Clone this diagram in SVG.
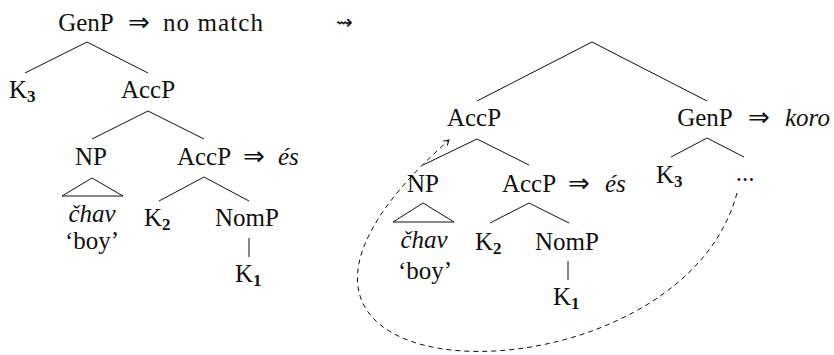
<svg xmlns="http://www.w3.org/2000/svg" width="834" height="355" viewBox="0 0 834 355">
<style>
.it{font-style:italic}
.ar{font-family:"DejaVu Sans",sans-serif;font-size:26px}
.sq{font-family:"DejaVu Sans",sans-serif;font-size:20px}
.sub{font-size:17px;font-weight:bold}
.m{text-anchor:middle}
.e line,.e path,.e polyline,.e polygon{stroke:#111;stroke-width:1;fill:none}
.d{stroke-dasharray:5 4}
</style>
<defs>
<marker id="ah" markerWidth="10" markerHeight="10" viewBox="-6 -5 8 10" refX="0" refY="0" orient="auto" markerUnits="userSpaceOnUse">
<path d="M-5,-3 Q-1.5,-0.8 0,0 Q-1.5,0.8 -5,3" fill="none" stroke="#111" stroke-width="1"/>
</marker>
</defs>
<g font-family="Liberation Serif, Times New Roman, serif" font-size="25" fill="#111">
<text class="sq" x="336" y="29">⇝</text>
<g id="L_GenP"><text class="m" x="86" y="31">GenP</text><text class="ar" x="128" y="31">⇒</text><text x="163" y="31" textLength="100" lengthAdjust="spacing">no match</text></g>
<g id="L_K3"><text x="9" y="98">K<tspan class="sub" dy="4">3</tspan></text></g>
<g id="L_AccP"><text class="m" x="148" y="98">AccP</text></g>
<g id="L_NP"><text class="m" x="91" y="165">NP</text></g>
<g id="L_AccP2"><text class="m" x="204" y="165">AccP</text><text class="ar" x="243" y="165">⇒</text><text class="it" x="278" y="165">és</text></g>
<g id="L_chav"><text class="m it" x="92" y="222">čhav</text><text class="m" x="92" y="249">‘boy’</text></g>
<g id="L_K2"><text x="144" y="226">K<tspan class="sub" dy="4">2</tspan></text></g>
<g id="L_NomP"><text class="m" x="247" y="226">NomP</text></g>
<g id="L_K1"><text x="235" y="282">K<tspan class="sub" dy="4">1</tspan></text></g>
<g id="R_AccP"><text class="m" x="474" y="126">AccP</text></g>
<g id="R_GenP"><text class="m" x="705" y="126">GenP</text><text class="ar" x="748" y="126">⇒</text><text class="it" x="785" y="126">koro</text></g>
<g id="R_NP"><text class="m" x="423" y="192">NP</text></g>
<g id="R_AccP2"><text class="m" x="529" y="192">AccP</text><text class="ar" x="568" y="192">⇒</text><text class="it" x="605" y="192">és</text></g>
<g id="R_K3"><text x="656" y="183">K<tspan class="sub" dy="4">3</tspan></text></g>
<g id="R_dots"><text class="m" x="745" y="181">...</text></g>
<g id="R_chav"><text class="m it" x="424" y="248">čhav</text><text class="m" x="425" y="279">‘boy’</text></g>
<g id="R_K2"><text x="475" y="250">K<tspan class="sub" dy="4">2</tspan></text></g>
<g id="R_NomP"><text class="m" x="567" y="250">NomP</text></g>
<g id="R_K1"><text x="553" y="305">K<tspan class="sub" dy="4">1</tspan></text></g>
</g>
<g id="edges" class="e">
<polyline points="25,73 87,42 148,73"/>
<polyline points="92,139 148,111 204,139"/>
<polygon points="92,178 62,196 123,196"/>
<polyline points="159,201 204,177 249,201"/>
<line x1="249" y1="238" x2="249" y2="257"/>
<polyline points="477,101 592,42 707,101"/>
<polyline points="423,165 477,139 529,165"/>
<polyline points="671,157 707,138 744,157"/>
<polygon points="423,203 393,222 454,222"/>
<polyline points="490,223 529,203 569,223"/>
<line x1="568" y1="261" x2="568" y2="280"/>
<path class="d" d="M737,193 C677,418 149,406 449,140" marker-end="url(#ah)"/>
</g>
</svg>
